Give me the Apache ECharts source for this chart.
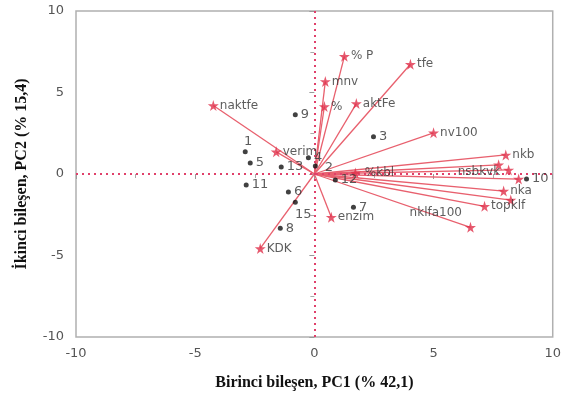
<!DOCTYPE html>
<html><head><meta charset="utf-8">
<script src="https://cdn.jsdelivr.net/npm/echarts@6/dist/echarts.min.js"></script>
<style>html,body{margin:0;padding:0;background:#fff}#c{width:564px;height:396px}</style>
</head><body><div id="c"></div>
<script>
// Loading vectors (variables)
const vecNames = ['% P','tfe','mnv','%','aktFe','naktfe','nv100','verim','nkb','','nsbkvk','','nka','','topklf','nklfa100','%kbl','enzim','KDK'];
const vecPC1 = [1.26, 4.03, 0.46, 0.42, 1.76, -4.24, 5.00, -1.60, 8.03, 7.73, 8.15, 8.57, 7.94, 8.24, 7.14, 6.55, 1.72, 0.71, -2.27];
const vecPC2 = [7.22, 6.73, 5.68, 4.14, 4.32, 4.20, 2.53, 1.36, 1.17, 0.56, 0.25, -0.31, -1.05, -1.60, -1.98, -3.27, 0.06, -2.65, -4.57];
// Observation scores
const obsNames = ['1','2','3','4','5','6','7','8','9','10','11','12','13','15'];
const obsPC1 = [-2.90, 0.04, 2.48, -0.25, -2.69, -1.09, 1.64, -1.43, -0.80, 8.90, -2.86, 0.88, -1.39, -0.80];
const obsPC2 = [1.36, 0.49, 2.28, 0.99, 0.68, -1.11, -2.04, -3.33, 3.64, -0.31, -0.68, -0.37, 0.43, -1.73];
// Axis
const axisMin = -10, axisMax = 10, axisStep = 5;

const vecLabelPos = {'nsbkvk':['left',[-2,2]], 'nklfa100':['left',[-2,-14]], '%kbl':['right',[3,0]]};
const obsLabelPos = {'1':['top',[3,2]], '15':['bottom',[8,0]], '2':['right',[4,2]]};

const starPath = 'path://M50,0 L61,35 L98,35 L68,57 L79,91 L50,70 L21,91 L32,57 L2,35 L39,35 Z';
const lab = {fontFamily:'DejaVu Sans', fontSize:12, color:'#333'};

const linesData = vecPC1.map((x,i)=>({coords:[[0,0],[x,vecPC2[i]]]}));
const starData = vecPC1.map((x,i)=>{
  const n = vecNames[i];
  const p = vecLabelPos[n] || ['right',[0,0]];
  return {value:[x,vecPC2[i]], name:n, label:{show:n!=='', formatter:n, position:p[0], offset:p[1], distance:1, ...lab}};
});
const obsData = obsPC1.map((x,i)=>{
  const n = obsNames[i];
  const p = obsLabelPos[n] || ['right',[0,0]];
  return {value:[x,obsPC2[i]], name:n, label:{show:true, formatter:n, position:p[0], offset:p[1], distance:3, ...lab, fontSize:13}};
});

const axisCommon = {
  min:axisMin, max:axisMax, interval:axisStep,
  axisLine:{show:false},
  axisTick:{show:true, length:5, lineStyle:{color:'#999'}},
  minorTick:{show:true, splitNumber:2, length:4, lineStyle:{color:'#aaa'}},
  splitLine:{show:false},
  axisLabel:{color:'#555', fontFamily:'DejaVu Sans', fontSize:13},
  nameLocation:'middle',
  nameTextStyle:{fontFamily:'Liberation Serif', fontWeight:'bold', fontSize:16, color:'#111'}
};

const chart = echarts.init(document.getElementById('c'), null, {renderer:'canvas'});
chart.setOption({
  animation:false,
  grid:{left:76, right:10, top:11, bottom:59, show:true, borderColor:'#b0b0b0', borderWidth:1.5, backgroundColor:'transparent'},
  xAxis:{...axisCommon, type:'value', name:'Birinci bileşen, PC1 (% 42,1)', nameGap:38,
         axisLabel:{...axisCommon.axisLabel, margin:10}},
  yAxis:{...axisCommon, type:'value', name:'İkinci bileşen, PC2 (% 15,4)', nameGap:46,
         axisLabel:{...axisCommon.axisLabel, margin:12}},
  series:[
    {type:'line', data:[], silent:true,
     markLine:{symbol:'none', silent:true, label:{show:false},
       lineStyle:{color:'#e0406a', type:[2,4], width:2},
       data:[{xAxis:0},{yAxis:0}]}},
    {type:'lines', coordinateSystem:'cartesian2d', data:linesData, silent:true,
     lineStyle:{color:'#e8606e', width:1.3, opacity:1}, symbol:'none', z:3},
    {type:'scatter', data:starData, symbol:starPath, symbolSize:11,
     itemStyle:{color:'#e0304a'}, z:5},
    {type:'scatter', data:obsData, symbol:'circle', symbolSize:5,
     itemStyle:{color:'#111'}, z:6}
  ]
});
</script></body></html>
